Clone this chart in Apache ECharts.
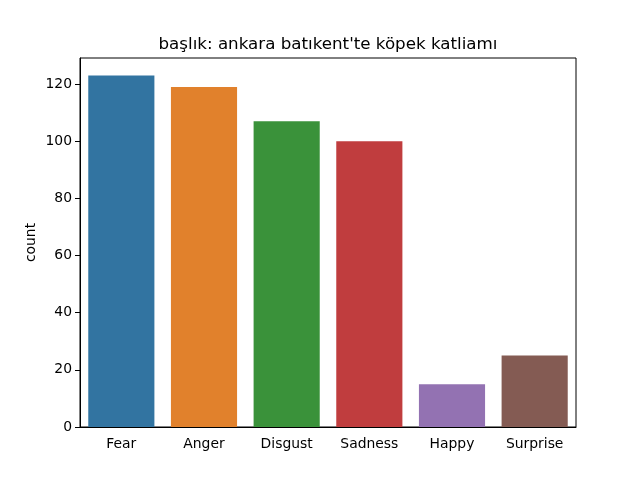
<!DOCTYPE html>
<html>
<head>
<meta charset="utf-8">
<script src="https://cdn.jsdelivr.net/npm/echarts@6/dist/echarts.min.js"></script>
<style>
  html, body { margin: 0; padding: 0; background: #fff; }
  #main { width: 640px; height: 480px; }
</style>
</head>
<body>
<div id="main"></div>
<script>
// duygu kategorileri ve sayıları
var categories = ['Fear', 'Anger', 'Disgust', 'Sadness', 'Happy', 'Surprise'];
var counts = [123, 119, 107, 100, 15, 25];
var barColors = ['#3274a1', '#e1812c', '#3a923a', '#c03d3e', '#9372b2', '#845b53'];
var yTicks = [0, 20, 40, 60, 80, 100, 120];
var titleText = "başlık: ankara batıkent'te köpek katliamı";

var chart = echarts.init(document.getElementById('main'));

var option = {
    backgroundColor: '#ffffff',
    animation: false,
    textStyle: { fontFamily: 'DejaVu Sans' },
    title: {
        text: titleText,
        left: 323,
        top: 31,
        textAlign: 'center',
        textStyle: { fontFamily: 'DejaVu Sans', fontSize: 16.7, fontWeight: 'normal', color: '#000' }
    },
    grid: {
        left: 80, right: 64, top: 58, bottom: 53,
        show: true, borderColor: '#000', borderWidth: 1, backgroundColor: 'transparent'
    },
    xAxis: {
        type: 'category',
        data: categories,
        axisLine: { lineStyle: { color: '#000', width: 1 } },
        axisTick: { alignWithLabel: true, length: 5, lineStyle: { color: '#000' } },
        axisLabel: { color: '#000', fontSize: 13.9, margin: 10, fontFamily: 'DejaVu Sans' }
    },
    yAxis: {
        type: 'value',
        min: 0,
        max: 129.15,
        name: 'count',
        nameLocation: 'middle',
        nameGap: 42,
        nameMoveOverlap: false,
        nameTextStyle: { color: '#000', fontSize: 13.9, fontFamily: 'DejaVu Sans' },
        splitLine: { show: false },
        axisLine: { show: true, lineStyle: { color: '#000', width: 1 } },
        axisTick: { show: true, length: 5, customValues: yTicks, lineStyle: { color: '#000' } },
        axisLabel: { color: '#000', fontSize: 13.9, margin: 8, customValues: yTicks, fontFamily: 'DejaVu Sans' }
    },
    series: [{
        type: 'bar',
        data: counts.map(function (v, i) {
            return { value: v, itemStyle: { color: barColors[i] } };
        }),
        barCategoryGap: '20%'
    }]
};

chart.setOption(option);
</script>
</body>
</html>
